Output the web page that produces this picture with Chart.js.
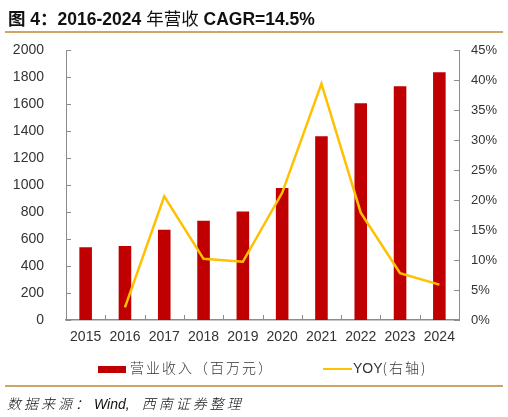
<!DOCTYPE html>
<html>
<head>
<meta charset="utf-8">
<script src="https://cdn.jsdelivr.net/npm/chart.js@4/dist/chart.umd.min.js"></script>
<style>
  html, body { margin: 0; padding: 0; background: #fff; }
  body { width: 508px; height: 417px; position: relative; overflow: hidden;
         font-family: "Liberation Sans", Arial, "Noto Sans CJK SC", sans-serif; }
  #wrap { position: absolute; left: 0; top: 0; width: 508px; height: 417px; }
  .title { position: absolute; left: 8px; top: 5px; font-size: 17.5px; font-weight: bold; color: #111; white-space: nowrap; }
  .title .cn { font-family: "Noto Sans CJK SC", sans-serif; font-weight: normal; }
  .rule { position: absolute; left: 5px; width: 498px; height: 2px; background: #CFA468; }
  .legend { position: absolute; top: 357px; font-size: 14px; color: #333; white-space: nowrap;
            font-family: "Noto Sans CJK SC", sans-serif; font-weight: 300; letter-spacing: 2px; }
  .legend i { display: inline-block; vertical-align: middle; margin-right: 4px; }
  .source { position: absolute; left: 7px; top: 393px; font-size: 14px; font-style: italic; color: #111;
            font-family: "Noto Sans CJK SC", sans-serif; font-weight: 300; letter-spacing: 3px; white-space: nowrap; }
  .source .en { font-family: "Liberation Sans", Arial, sans-serif; font-weight: normal; letter-spacing: 0; margin-left: 2px; margin-right: 12px; }
</style>
</head>
<body>
<div id="wrap"><canvas id="chart" width="508" height="417"></canvas></div>
<div class="title">图 4：2016-2024 <span class="cn">年营收</span> CAGR=14.5%</div>
<div class="rule" style="top:31px"></div>
<div class="legend" style="left:98px"><i style="width:28px;height:7px;background:#C00000"></i>营业收入（百万元）</div>
<div class="legend" style="left:323px"><i style="width:29px;height:2px;background:#FFC000;margin-right:1px"></i><span style="font-family:'Liberation Sans',Arial,sans-serif;letter-spacing:0;font-weight:normal">YOY</span>(右轴)</div>
<div class="rule" style="top:385px"></div>
<div class="source">数据来源：<span class="en">Wind,</span>西南证券整理</div>
<script>
const years = ["2015", "2016", "2017", "2018", "2019", "2020", "2021", "2022", "2023", "2024"];
const revenue = [538, 548, 669, 736, 803, 978, 1361, 1605, 1731, 1835];
const yoy = [null, 2.1, 20.6, 10.2, 9.7, 21.2, 39.4, 17.9, 7.8, 5.9];
const leftMax = 2000, leftStep = 200;
const rightMax = 45, rightStep = 5;

const axisColor = "#8C8C8C";
const labelColor = "#333333";

// small inward tick marks, like the original
const innerTicks = {
  id: "innerTicks",
  afterDraw(chart) {
    const ctx = chart.ctx;
    const area = chart.chartArea;
    const x = chart.scales.x, y = chart.scales.y, y1 = chart.scales.y1;
    ctx.save();
    ctx.strokeStyle = axisColor;
    ctx.lineWidth = 1;
    ctx.beginPath();
    for (let i = 1; i < years.length; i++) {
      const px = Math.round((x.getPixelForValue(i - 1) + x.getPixelForValue(i)) / 2) + 0.5;
      ctx.moveTo(px, area.bottom);
      ctx.lineTo(px, area.bottom - 5);
    }
    y.ticks.forEach(t => {
      const py = Math.round(y.getPixelForValue(t.value)) + 0.5;
      ctx.moveTo(area.left, py);
      ctx.lineTo(area.left + 5, py);
    });
    y1.ticks.forEach(t => {
      const py = Math.round(y1.getPixelForValue(t.value)) + 0.5;
      ctx.moveTo(area.right, py);
      ctx.lineTo(area.right - 5, py);
    });
    ctx.stroke();
    ctx.restore();
  }
};

new Chart(document.getElementById("chart"), {
  data: {
    labels: years,
    datasets: [
      {
        type: "line",
        label: "YOY(右轴)",
        data: yoy,
        yAxisID: "y1",
        borderColor: "#FFC000",
        backgroundColor: "#FFC000",
        borderWidth: 2.5,
        pointRadius: 0,
        tension: 0,
        order: 0
      },
      {
        type: "bar",
        label: "营业收入（百万元）",
        data: revenue,
        yAxisID: "y",
        backgroundColor: "#C00000",
        barPercentage: 0.32,
        categoryPercentage: 1,
        order: 1
      }
    ]
  },
  options: {
    responsive: false,
    animation: false,
    layout: { padding: { top: 50, bottom: 71, left: 0, right: 0 } },
    plugins: {
      legend: { display: false },
      tooltip: { enabled: false }
    },
    scales: {
      x: {
        grid: { display: false },
        border: { display: true, color: axisColor, width: 1.5 },
        ticks: { color: labelColor, font: { size: 14, family: "'Liberation Sans', Arial" }, padding: 1, maxRotation: 0 },
        afterFit(s) { s.height = 26; }
      },
      y: {
        position: "left",
        min: 0,
        max: leftMax,
        grid: { display: false },
        border: { display: true, color: axisColor, width: 1 },
        ticks: {
          stepSize: leftStep,
          color: labelColor,
          font: { size: 14, family: "'Liberation Sans', Arial" },
          padding: 14,
          callback: v => String(v)
        },
        afterFit(s) { s.width = 66; }
      },
      y1: {
        position: "right",
        min: 0,
        max: rightMax,
        grid: { display: false },
        border: { display: true, color: axisColor, width: 1 },
        ticks: {
          stepSize: rightStep,
          color: labelColor,
          font: { size: 13, family: "'Liberation Sans', Arial" },
          padding: 4,
          callback: v => v + "%"
        },
        afterFit(s) { s.width = 49; }
      }
    }
  },
  plugins: [innerTicks]
});
</script>
</body>
</html>
